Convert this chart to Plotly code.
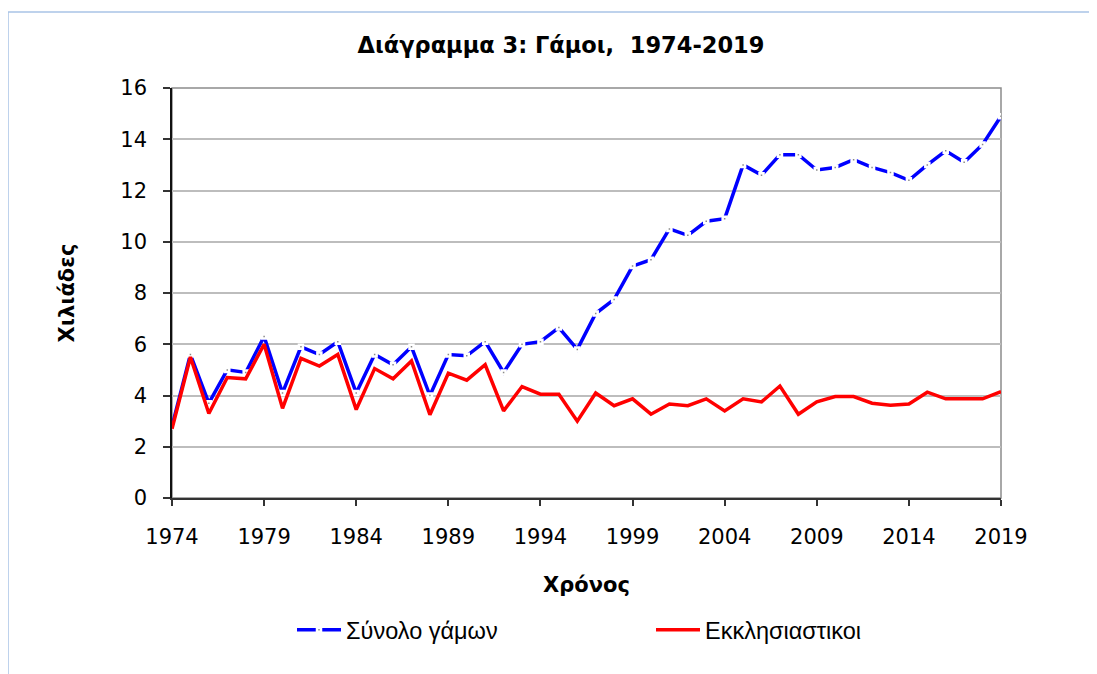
import plotly.graph_objects as go

years = list(range(1974, 2020))
total = [2.8, 5.6, 3.7, 5.0, 4.9, 6.3, 4.1, 5.9, 5.6, 6.1,
         4.1, 5.6, 5.2, 5.9, 4.0, 5.6, 5.55, 6.1, 4.9, 6.0,
         6.1, 6.65, 5.8, 7.2, 7.75, 9.05, 9.3, 10.5, 10.25, 10.8,
         10.9, 13.0, 12.6, 13.4, 13.4, 12.8, 12.9, 13.2, 12.9, 12.7,
         12.4, 13.0, 13.55, 13.1, 13.8, 14.9]
church = [2.7, 5.5, 3.3, 4.7, 4.65, 6.0, 3.5, 5.45, 5.15, 5.6,
          3.45, 5.05, 4.65, 5.35, 3.25, 4.87, 4.6, 5.2, 3.4, 4.35,
          4.05, 4.05, 3.0, 4.1, 3.6, 3.87, 3.27, 3.67, 3.6, 3.87,
          3.4, 3.87, 3.75, 4.37, 3.27, 3.75, 3.96, 3.96, 3.7, 3.62,
          3.67, 4.13, 3.87, 3.87, 3.87, 4.15]
series_names = ["Σύνολο γάμων", "Εκκλησιαστικοι"]
title_text = "Διάγραμμα 3: Γάμοι,  1974-2019"
x_title = "Χρόνος"
y_title = "Χιλιάδες"
x_ticks = [1974, 1979, 1984, 1989, 1994, 1999, 2004, 2009, 2014, 2019]
y_ticks = [0, 2, 4, 6, 8, 10, 12, 14, 16]

# page body has an 8px margin; figure sized so plot area lands at x 172-1001, y 88-498
W, H = 1089, 666
L, T = 164, 80
R = W - (1001 - 8)
B = H - (498 - 8)
PW = W - L - R
PH = H - T - B

fig = go.Figure()
fig.add_trace(go.Scatter(
    x=years, y=total, name=series_names[0], mode="lines+markers",
    line=dict(color="#0000ff", width=3.5),
    marker=dict(symbol="square", size=4, color="#8a8a8a",
                line=dict(color="white", width=2.5)),
))
fig.add_trace(go.Scatter(
    x=years, y=church, name=series_names[1], mode="lines",
    line=dict(color="#ff0000", width=3.5),
))

axis_font = dict(family="DejaVu Sans", size=21, color="#000000")
title_font = dict(family="DejaVu Sans", size=21, color="#000000", weight="bold")

fig.update_layout(
    width=W, height=H,
    margin=dict(l=L, r=R, t=T, b=B, autoexpand=False),
    paper_bgcolor="white", plot_bgcolor="white",
    title=dict(text=title_text, x=(561 - 8) / W, xref="container", xanchor="center",
               y=1 - (45 - 8) / H, yref="container", yanchor="middle",
               font=dict(family="DejaVu Sans", size=22.5, color="#000000", weight="bold")),
    showlegend=True,
    legend=dict(orientation="h", x=(292 - 172) / PW, xanchor="left",
                y=(498 - 630) / PH, yanchor="middle", itemwidth=44,
                font=dict(family="Liberation Sans", size=23.5, color="#000000"),
                entrywidth=300, entrywidthmode="pixels", bgcolor="rgba(0,0,0,0)"),
    xaxis=dict(
        range=[1974, 2019], tickvals=x_ticks, ticks="outside", ticklen=6,
        tickcolor="#333333", tickwidth=1.5, showline=True, linecolor="#333333", linewidth=1.5,
        showgrid=False, zeroline=False, tickfont=axis_font, ticklabelstandoff=13,
        title=dict(text=x_title, standoff=29, font=title_font),
    ),
    yaxis=dict(
        range=[0, 16], tickvals=y_ticks, ticks="outside", ticklen=7,
        tickcolor="#333333", tickwidth=1.5, showline=True, linecolor="#111111", linewidth=1.5,
        showgrid=True, gridcolor="#bdbdbd", gridwidth=1.5, zeroline=False,
        tickfont=axis_font, ticklabelstandoff=12,
        title=dict(text=y_title, standoff=40, font=title_font),
    ),
    shapes=[
        dict(type="rect", xref="paper", yref="paper", x0=0, x1=1, y0=0, y1=1,
             line=dict(color="#8c8c8c", width=1.5), layer="below"),
        dict(type="rect", xref="paper", yref="paper",
             x0=(8 - 172) / PW, x1=1.3, y0=-0.6, y1=(498 - 12) / PH,
             line=dict(color="#a9c4e6", width=1.5), layer="below"),
    ],
)

fig.write_html("out.html")
